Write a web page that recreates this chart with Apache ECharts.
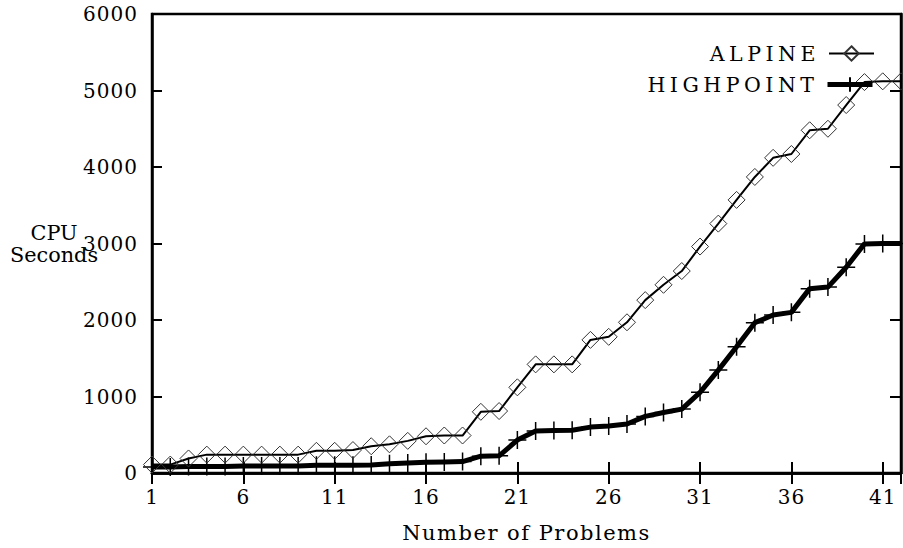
<!DOCTYPE html>
<html>
<head>
<meta charset="utf-8">
<script src="https://cdn.jsdelivr.net/npm/echarts@6/dist/echarts.min.js"></script>
<style>
  html, body { margin: 0; padding: 0; background: #fff; }
  #chart { width: 903px; height: 548px; }
  /* 字距: 原图文字较松 */
  #chart svg text[style*="20px"] { letter-spacing: 1px; }
  #chart svg text[style*="21px"] { letter-spacing: 1.5px; }
  #chart svg text[style*="20.5px"] { letter-spacing: 4.5px; }
</style>
</head>
<body>
<div id="chart"></div>
<script>
// 横轴: 问题数量
var problems = [1, 2, 3, 4, 5, 6, 7, 8, 9, 10, 11, 12, 13, 14, 15, 16, 17, 18, 19, 20, 21,
  22, 23, 24, 25, 26, 27, 28, 29, 30, 31, 32, 33, 34, 35, 36, 37, 38, 39, 40, 41, 42];
// CPU 秒数
var alpine = [110, 110, 190, 240, 240, 240, 240, 240, 240, 290, 290, 300, 350, 375, 420, 480,
  490, 490, 800, 810, 1120, 1420, 1420, 1420, 1740, 1780, 1970, 2260, 2460, 2640, 2960,
  3260, 3570, 3870, 4120, 4170, 4480, 4500, 4810, 5110, 5120, 5120];
var highpoint = [80, 80, 85, 85, 85, 90, 90, 90, 90, 100, 100, 100, 105, 120, 130, 140,
  145, 150, 220, 225, 430, 550, 555, 560, 600, 615, 640, 740, 790, 835, 1055, 1345,
  1650, 1965, 2065, 2100, 2410, 2430, 2690, 2995, 3000, 3000];
var xTicks = [1, 6, 11, 16, 21, 26, 31, 36, 41];

var font = 'DejaVu Serif';
var chart = echarts.init(document.getElementById('chart'), null, { renderer: 'svg' });

function pairs(vals) {
  return problems.map(function (p, i) { return [p, vals[i]]; });
}

var plusPath = 'path://M0,5L10,5M5,0L5,10';

var legendBase = {
  orient: 'vertical',
  align: 'right',
  right: 28,
  padding: 0,
  itemWidth: 45,
  itemHeight: 18,
  textStyle: { fontFamily: font, fontSize: 20.5, color: '#000', padding: [0, 4, 0, 0] }
};

var frameAxis = {
  axisLine: { show: true, lineStyle: { color: '#000', width: 2.5 } },
  axisTick: { show: true, inside: true, length: 11, lineStyle: { color: '#000', width: 2 } },
  axisLabel: { show: false },
  splitLine: { show: false }
};

var option = {
  backgroundColor: '#fff',
  animation: false,
  legend: [
    Object.assign({}, legendBase, { top: 43, data: ['ALPINE'] }),
    Object.assign({}, legendBase, {
      top: 74,
      data: [{ name: 'HIGHPOINT', lineStyle: { width: 5 } }]
    })
  ],
  grid: {
    left: 152,
    right: 2,
    top: 14,
    bottom: 75,
    containLabel: false,
    outerBoundsMode: 'none',
    show: true,
    borderColor: '#000',
    borderWidth: 2.5
  },
  xAxis: [{
    type: 'value',
    min: 1,
    max: 42,
    interval: 5,
    name: 'Number of Problems',
    nameLocation: 'middle',
    nameGap: 49,
    nameMoveOverlap: false,
    nameTextStyle: { fontFamily: font, fontSize: 21, color: '#000' },
    axisLine: { show: true, lineStyle: { color: '#000', width: 2.5 } },
    axisTick: { show: true, inside: true, length: 11, lineStyle: { color: '#000', width: 2 } },
    axisLabel: {
      fontFamily: font, fontSize: 20, color: '#000', margin: 14,
      showMaxLabel: false,
      formatter: function (v) { return xTicks.indexOf(v) >= 0 ? String(v) : ''; }
    },
    splitLine: { show: false }
  }, Object.assign({ type: 'value', position: 'top', min: 1, max: 42, interval: 5 }, frameAxis)],
  yAxis: [{
    type: 'value',
    min: 0,
    max: 6000,
    interval: 1000,
    name: 'CPU\nSeconds',
    nameLocation: 'middle',
    nameRotate: 0,
    nameGap: 98,
    nameMoveOverlap: false,
    nameTextStyle: {
      fontFamily: font, fontSize: 20.8, color: '#000', align: 'center',
      verticalAlign: 'middle', lineHeight: 22, padding: [8, 0, 0, 0]
    },
    axisLine: { show: true, lineStyle: { color: '#000', width: 2.5 } },
    axisTick: { show: true, inside: true, length: 10, lineStyle: { color: '#000', width: 2 } },
    axisLabel: {
      fontFamily: font, fontSize: 20, color: '#000', margin: 14,
      formatter: function (v) { return String(v); }
    },
    splitLine: { show: false }
  }, Object.assign({ type: 'value', position: 'right', min: 0, max: 6000, interval: 1000 }, frameAxis)],
  series: [{
    name: 'ALPINE',
    type: 'line',
    data: pairs(alpine),
    symbol: 'diamond',
    symbolSize: 17,
    showAllSymbol: true,
    lineStyle: { color: '#000', width: 2 },
    itemStyle: { color: 'none', borderColor: '#333', borderWidth: 1 },
    z: 3
  }, {
    name: 'HIGHPOINT',
    type: 'line',
    data: pairs(highpoint),
    symbol: plusPath,
    symbolSize: 18,
    showAllSymbol: true,
    lineStyle: { color: '#000', width: 5 },
    itemStyle: { color: 'none', borderColor: '#000', borderWidth: 1.5 },
    z: 2
  }]
};

chart.setOption(option);
</script>
</body>
</html>
